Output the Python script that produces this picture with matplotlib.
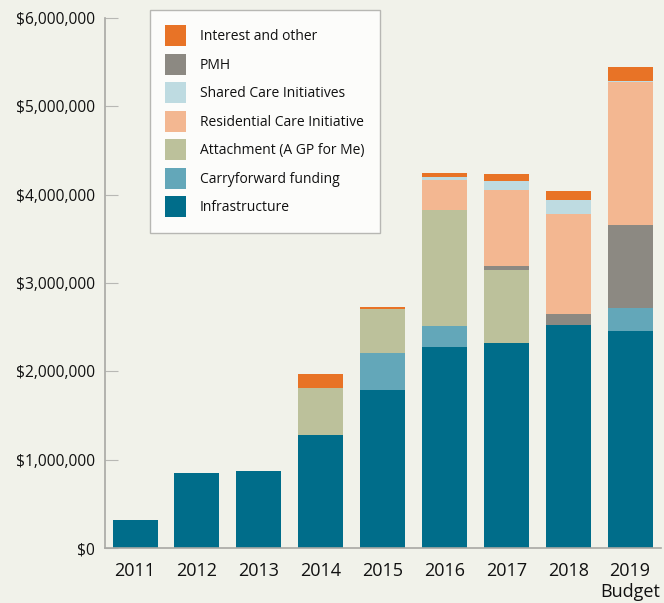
import matplotlib
matplotlib.use("Agg")
from matplotlib import pyplot as plt
from matplotlib.patches import Patch
import numpy as np

# values, in dollars
years = ["2011", "2012", "2013", "2014", "2015", "2016", "2017", "2018", "2019\nBudget"]
infrastructure = [320000, 850000, 870000, 1280000, 1790000, 2280000, 2320000, 2530000, 2460000]
carryforward = [0, 0, 0, 0, 420000, 230000, 0, 0, 260000]
attachment = [0, 0, 0, 530000, 500000, 1320000, 830000, 0, 0]
pmh = [0, 0, 0, 0, 0, 0, 45000, 120000, 940000]
residential = [0, 0, 0, 0, 0, 340000, 860000, 1130000, 1620000]
shared_care = [0, 0, 0, 0, 0, 25000, 95000, 160000, 12000]
interest = [0, 0, 0, 160000, 15000, 45000, 80000, 100000, 150000]

series = [
    ("Infrastructure", infrastructure, "#006d8a"),
    ("Carryforward funding", carryforward, "#63a7b9"),
    ("Attachment (A GP for Me)", attachment, "#bcc19b"),
    ("PMH", pmh, "#8c8982"),
    ("Residential Care Initiative", residential, "#f3b791"),
    ("Shared Care Initiatives", shared_care, "#bedbe1"),
    ("Interest and other", interest, "#e87326"),
]
legend_order = ["Interest and other", "PMH", "Shared Care Initiatives", "Residential Care Initiative",
                "Attachment (A GP for Me)", "Carryforward funding", "Infrastructure"]

BG = "#f1f2ea"
plt.rcParams["font.family"] = ["Open Sans", "DejaVu Sans"]

fig = plt.figure(figsize=(6.64, 6.03), dpi=100, facecolor=BG)
ax = fig.add_axes([105 / 664, 1 - 548 / 603, 556 / 664, 530 / 603])
ax.set_facecolor(BG)

x = np.arange(len(years))
bottom = np.zeros(len(years))
colors = {}
for name, vals, color in series:
    vals = np.array(vals, dtype=float)
    ax.bar(x, vals, width=0.727, bottom=bottom, color=color, linewidth=0)
    bottom += vals
    colors[name] = color

ax.set_xlim(-0.485, 8.5)
ax.set_ylim(0, 6000000)
ax.set_yticks(np.arange(0, 6000001, 1000000))
ax.set_yticklabels(["$0"] + ["${:,.0f}".format(v) for v in np.arange(1000000, 6000001, 1000000)])
ax.set_xticks(x)
ax.set_xticklabels(years, fontsize=13, color="#111111", linespacing=1.2)

for side in ["top", "right"]:
    ax.spines[side].set_visible(False)
for side in ["left", "bottom"]:
    ax.spines[side].set_color("#a8a8a4")
    ax.spines[side].set_linewidth(1.2)

ax.tick_params(axis="y", direction="in", length=9.5, width=0.8, color="#b8b8b4",
               labelsize=11.2, labelcolor="#111111", pad=7)
ax.tick_params(axis="x", length=0, pad=10)

handles = [Patch(facecolor=colors[n], edgecolor="none") for n in legend_order]
leg = fig.legend(handles, legend_order, loc="upper left", bbox_to_anchor=(150 / 664, 1 - 10 / 603),
                 fontsize=10, frameon=True, fancybox=False, handlelength=1.5, handleheight=1.95,
                 handletextpad=1.0, labelspacing=0.54, borderpad=1.1, borderaxespad=0)
leg.get_frame().set_facecolor("#ffffff")
leg.get_frame().set_edgecolor("#a8a8a4")
leg.get_frame().set_linewidth(1.0)
for t in leg.get_texts():
    t.set_color("#111111")

fig.savefig("out.png", dpi=100, facecolor=BG)
